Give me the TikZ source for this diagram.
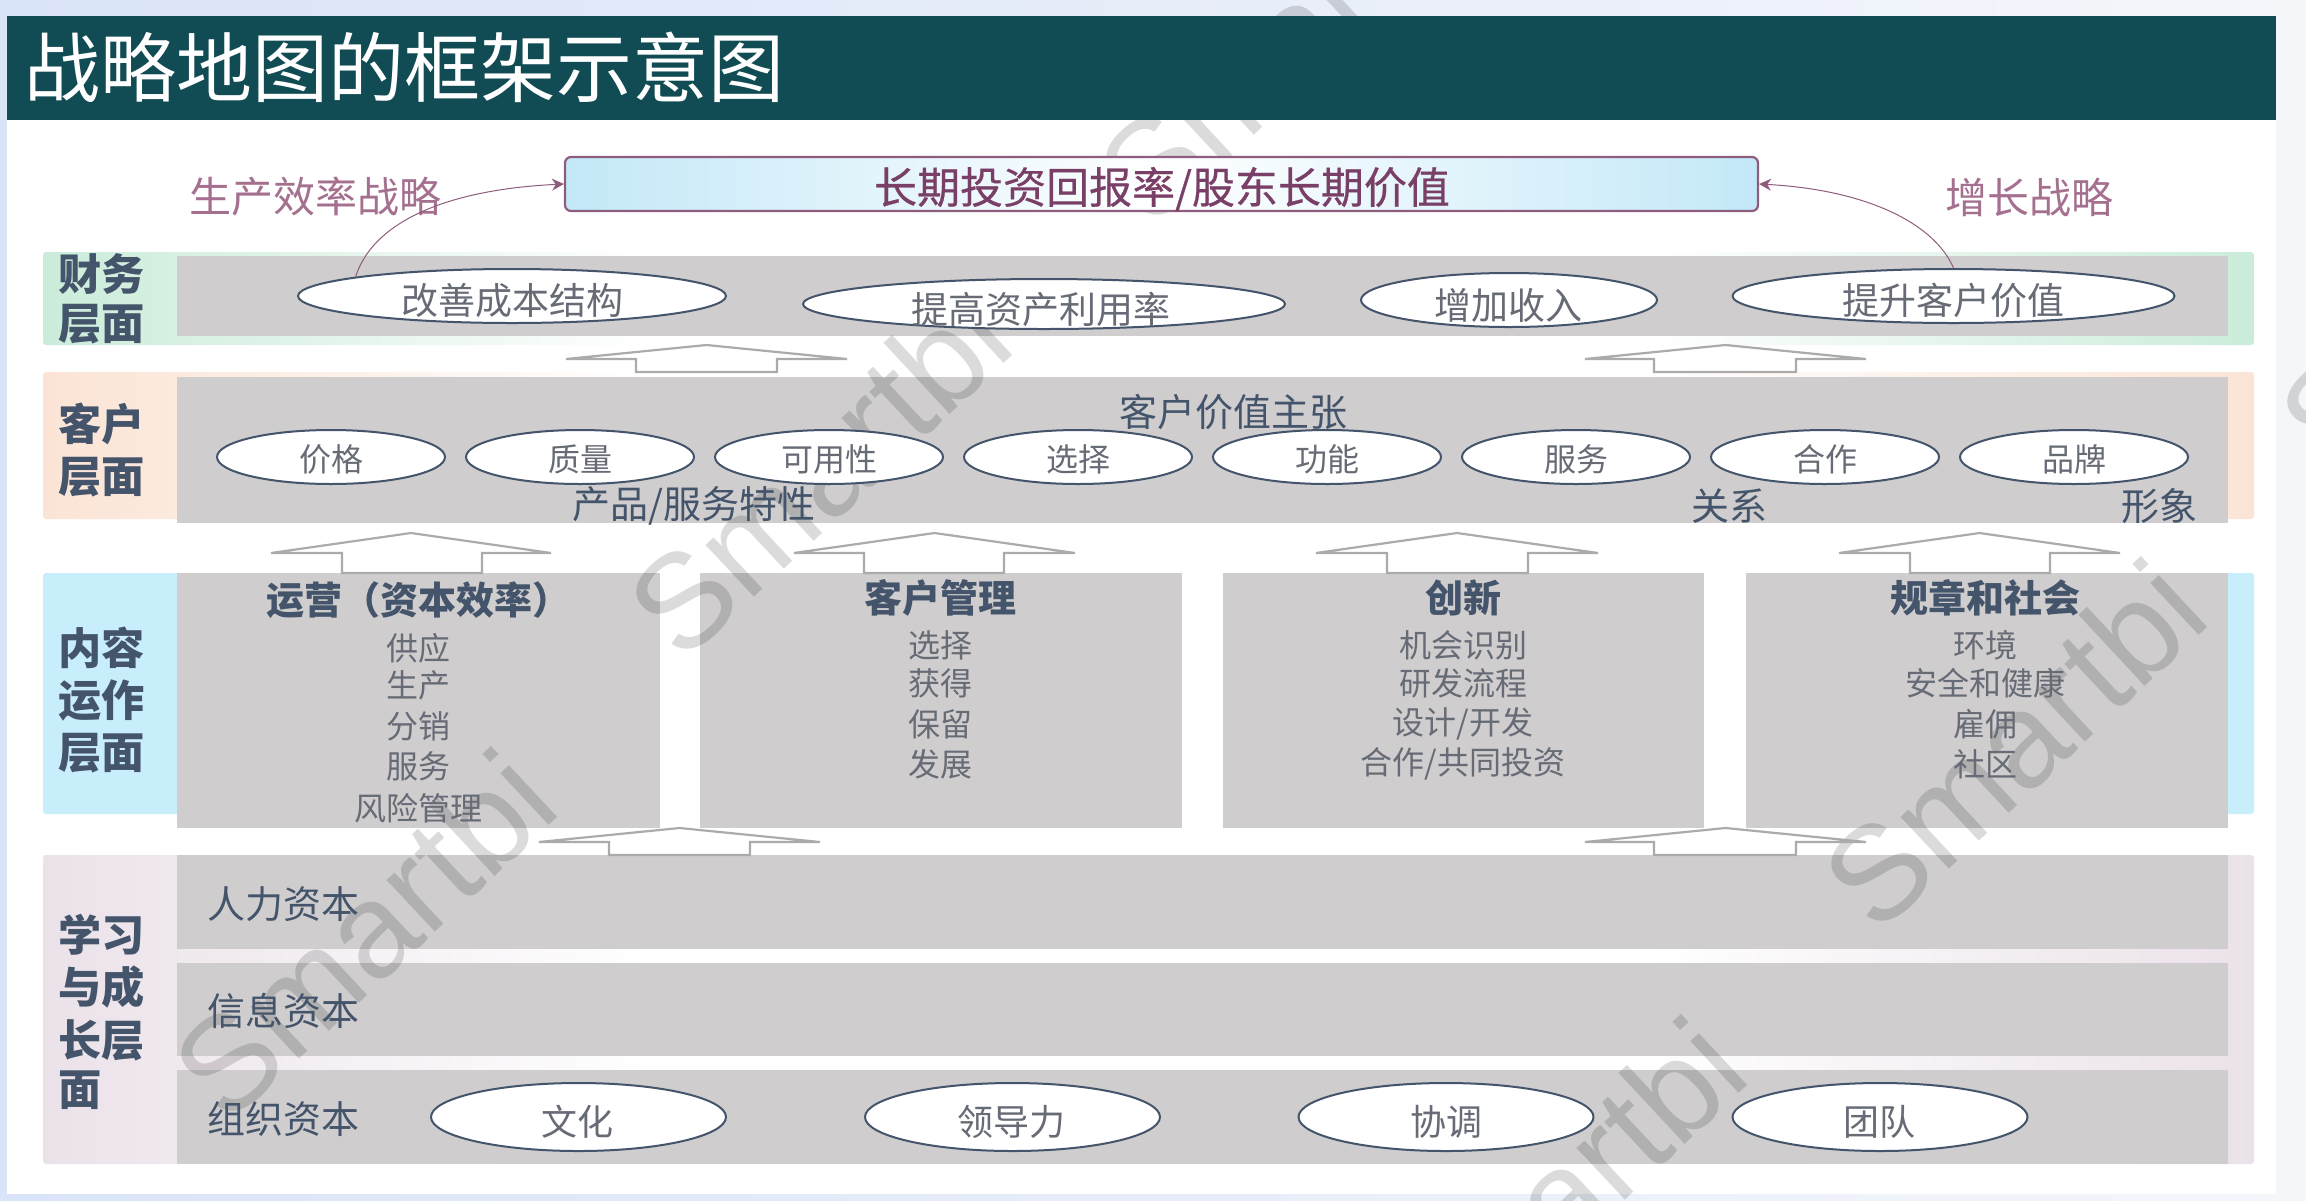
\documentclass[tikz,border=0pt]{standalone}
\usepackage{fontspec}
\setmainfont{Noto Sans CJK SC}
\newfontfamily\wmfont{Liberation Sans}
\newfontfamily\midfont[FakeBold=0.5]{Noto Sans CJK SC}
\usetikzlibrary{arrows.meta,shapes.geometric,shadings}
\definecolor{pageblue}{HTML}{DAE4F8}
\definecolor{pagepale}{HTML}{F4F6FA}
\definecolor{headteal}{HTML}{114B54}
\definecolor{bandgray}{HTML}{CFCDCE}
\definecolor{slate}{HTML}{44546A}
\definecolor{itemgray}{HTML}{666B75}
\definecolor{plum}{HTML}{7A3F66}
\definecolor{plumlight}{HTML}{A5708F}
\definecolor{arrowgray}{HTML}{ABABAB}
\definecolor{stripgreen}{HTML}{CBECDA}
\definecolor{stripor}{HTML}{FBE4D5}
\definecolor{stripblue}{HTML}{C9EEFB}
\definecolor{strippink}{HTML}{EBE2E9}
\definecolor{skyend}{HTML}{C3E8F8}
\tikzset{
  x=0.5pt,y=-0.5pt,
  graybox/.style={fill=bandgray,draw=none},
  ovalnode/.style={ellipse,draw=slate,fill=white,line width=1pt,inner sep=0pt},
  itemtext/.style={text=itemgray,inner sep=0pt,font=\fontsize{16}{16}\selectfont},
  ovaltext/.style={text=itemgray,inner sep=0pt},
  headtext/.style={text=slate,inner sep=0pt,font=\bfseries\fontsize{19}{19}\selectfont},
  bandtext/.style={text=slate,inner sep=0pt,font=\fontsize{19}{19}\selectfont},
  sidetext/.style={text=slate,inner sep=0pt,anchor=west,font=\bfseries\fontsize{21.6}{21.6}\selectfont},
  blockarrow/.style={draw=arrowgray,fill=white,line width=1.1pt,line join=miter},
  curvearrow/.style={draw=plum!85,line width=0.5pt,-{Stealth[length=6pt,width=6pt]}},
  watermark/.style={text=black,text opacity=0.14,font=\wmfont\fontsize{67}{67}\selectfont,rotate=43,anchor=base east,inner sep=0pt},
}
\newcommand{\barrow}[7]{% x0 x1 s0 s1 tip wing bottom
  \path[blockarrow] (#1,#6) -- ({(#1+#2)/2},#5) -- (#2,#6) -- (#4,#6) -- (#4,#7) -- (#3,#7) -- (#3,#6) -- cycle;}
\newcommand{\stripband}[3]{% y0 y1 colour, fades to white inward
  \path[rounded corners=1.5pt,left color=#3,right color=white] (43,#1) rectangle (650,#2);
  \path[rounded corners=1.5pt,left color=white,right color=#3] (1650,#1) rectangle (2254,#2);}
\begin{document}
\begin{tikzpicture}
\useasboundingbox (0,0) rectangle (2306,1200);
\clip (0,0) rectangle (2306,1200);
% page
\path[left color=pageblue,right color=pagepale] (0,0) rectangle (2306,1200);
\path[fill=white] (7,16) rectangle (2276,1194);
% stripes
\stripband{252}{345}{stripgreen}
\stripband{372}{519}{stripor}
\path[rounded corners=1.5pt,fill=stripblue] (43,573) rectangle (190,814);
\path[rounded corners=1.5pt,fill=stripblue] (2210,573) rectangle (2254,814);
\stripband{855}{1164}{strippink}
% gray bands
\path[graybox] (177,256) rectangle (2228,336);
\path[graybox] (177,377) rectangle (2228,523);
\path[graybox] (177,573) rectangle (660,828);
\path[graybox] (700,573) rectangle (1182,828);
\path[graybox] (1223,573) rectangle (1704,828);
\path[graybox] (1746,573) rectangle (2228,828);
\path[graybox] (177,855) rectangle (2228,949);
\path[graybox] (177,963) rectangle (2228,1056);
\path[graybox] (177,1070) rectangle (2228,1164);
% watermarks
\node[watermark] (w1) at (565,811) {Smartbi};
\node[watermark] (w2) at (1020,349) {Smartbi};
\node[watermark] (w3) at (1490,-85) {Smartbi};
\node[watermark] (w4) at (2215,621) {Smartbi};
\node[watermark] (w5) at (1755,1079) {Smartbi};
\node[watermark] (w6) at (2671,159) {Smartbi};
% block arrows
\barrow{566}{847}{636}{777}{345}{359}{372}
\barrow{1585}{1866}{1654}{1796}{345}{359}{372}
\barrow{271}{551}{342}{482}{533}{553}{573}
\barrow{794}{1075}{864}{1004}{533}{553}{573}
\barrow{1316}{1598}{1387}{1528}{533}{553}{573}
\barrow{1839}{2120}{1910}{2050}{533}{553}{573}
\barrow{539}{820}{609}{750}{828}{842}{855}
\barrow{1585}{1866}{1654}{1796}{828}{842}{855}
% top box
\node[draw=plum!85,line width=1.1pt,rounded corners=3pt,left color=skyend,right color=skyend,middle color=white,
  minimum width=596.5pt,minimum height=27pt,inner sep=0pt] (top) at (1161.5,184) {};
\node[text=plum,inner sep=0pt,font=\midfont\fontsize{21.5}{21.5}\selectfont] (toptext) at (1162,189) {长期投资回报率/股东长期价值};
\node[text=plumlight,inner sep=0pt,font=\fontsize{21}{21}\selectfont] (lp) at (315,197) {生产效率战略};
\node[text=plumlight,inner sep=0pt,font=\fontsize{21}{21}\selectfont] (lg) at (2029,197) {增长战略};
% finance ovals
\node[ovalnode,minimum width=214pt,minimum height=27pt] (f1) at (512,296) {};
\node[ovalnode,minimum width=241pt,minimum height=25pt] (f2) at (1044,304) {};
\node[ovalnode,minimum width=148pt,minimum height=27pt] (f3) at (1509,300) {};
\node[ovalnode,minimum width=221pt,minimum height=27pt] (f4) at (1953.5,296) {};
\begin{scope}[every node/.append style={ovaltext,font=\fontsize{18.5}{18.5}\selectfont}]
\node (f1t) at (512,301) {改善成本结构};
\node (f2t) at (1041,309) {提高资产利用率};
\node (f3t) at (1508,305) {增加收入};
\node (f4t) at (1953,300) {提升客户价值};
\end{scope}
\draw[curvearrow] (f1.173) .. controls (372,225) and (440,190) .. (top.west);
\draw[curvearrow] (f4.north) .. controls (1935,225) and (1870,190) .. (top.east);
% customer ovals
\begin{scope}[every node/.append style={ovalnode,minimum width=114pt,minimum height=27pt}]
\node (c1) at (331,457) {};
\node (c2) at (580,457) {};
\node (c3) at (829,457) {};
\node (c4) at (1078,457) {};
\node (c5) at (1327,457) {};
\node (c6) at (1576,457) {};
\node (c7) at (1825,457) {};
\node (c8) at (2074,457) {};
\end{scope}
\node[itemtext] (c1t) at (331,459) {价格};
\node[itemtext] (c2t) at (580,459) {质量};
\node[itemtext] (c3t) at (829,459) {可用性};
\node[itemtext] (c4t) at (1078,459) {选择};
\node[itemtext] (c5t) at (1327,459) {功能};
\node[itemtext] (c6t) at (1576,459) {服务};
\node[itemtext] (c7t) at (1825,459) {合作};
\node[itemtext] (c8t) at (2074,459) {品牌};
\node[bandtext] (cv) at (1233,412) {客户价值主张};
\node[bandtext] (cp) at (694,506) {产品/服务特性};
\node[bandtext] (cr) at (1729,506) {关系};
\node[bandtext] (ci) at (2159,506) {形象};
% internal columns
\node[headtext] (h1) at (418,600) {运营（资本效率）};
\node[headtext] (h2) at (940,598) {客户管理};
\node[headtext] (h3) at (1463,598) {创新};
\node[headtext] (h4) at (1985,598) {规章和社会};
\node[itemtext] (a1) at (418,648) {供应};
\node[itemtext] (a2) at (418,685) {生产};
\node[itemtext] (a3) at (418,726) {分销};
\node[itemtext] (a4) at (418,766) {服务};
\node[itemtext] (a5) at (418,808) {风险管理};
\node[itemtext] (b1) at (940,645) {选择};
\node[itemtext] (b2) at (940,683) {获得};
\node[itemtext] (b3) at (940,724) {保留};
\node[itemtext] (b4) at (940,764) {发展};
\node[itemtext] (d1) at (1463,645) {机会识别};
\node[itemtext] (d2) at (1463,683) {研发流程};
\node[itemtext] (d3) at (1463,724) {设计/开发};
\node[itemtext] (d4) at (1463,764) {合作/共同投资};
\node[itemtext] (g1) at (1985,645) {环境};
\node[itemtext] (g2) at (1985,683) {安全和健康};
\node[itemtext] (g3) at (1985,724) {雇佣};
\node[itemtext] (g4) at (1985,764) {社区};
% learning
\node[bandtext] (l1) at (283,904) {人力资本};
\node[bandtext] (l2) at (283,1011) {信息资本};
\node[bandtext] (l3) at (283,1119) {组织资本};
\begin{scope}[every node/.append style={ovalnode,minimum width=147.5pt,minimum height=34pt}]
\node (o1) at (578.5,1117) {};
\node (o2) at (1012.5,1117) {};
\node (o3) at (1446,1117) {};
\node (o4) at (1880,1117) {};
\end{scope}
\begin{scope}[every node/.append style={ovaltext,font=\fontsize{18}{18}\selectfont}]
\node (o1t) at (577,1122) {文化};
\node (o2t) at (1011,1122) {领导力};
\node (o3t) at (1446,1122) {协调};
\node (o4t) at (1879,1122) {团队};
\end{scope}
% side labels
\node[sidetext] (s1) at (58,274) {财务};
\node[sidetext] (s2) at (58,324) {层面};
\node[sidetext] (s3) at (58,424) {客户};
\node[sidetext] (s4) at (58,477) {层面};
\node[sidetext] (s5) at (58,648) {内容};
\node[sidetext] (s6) at (58,700) {运作};
\node[sidetext] (s7) at (58,753) {层面};
\node[sidetext] (s8) at (58,935) {学习};
\node[sidetext] (s9) at (58,987) {与成};
\node[sidetext] (s10) at (58,1040) {长层};
\node[sidetext] (s11) at (58,1090) {面};
% header
\path[fill=headteal] (7,16) rectangle (2276,120);
\node[text=white,inner sep=0pt,anchor=west,font=\fontsize{38}{38}\selectfont] (title) at (24,67) {战略地图的框架示意图};
\end{tikzpicture}
\end{document}
